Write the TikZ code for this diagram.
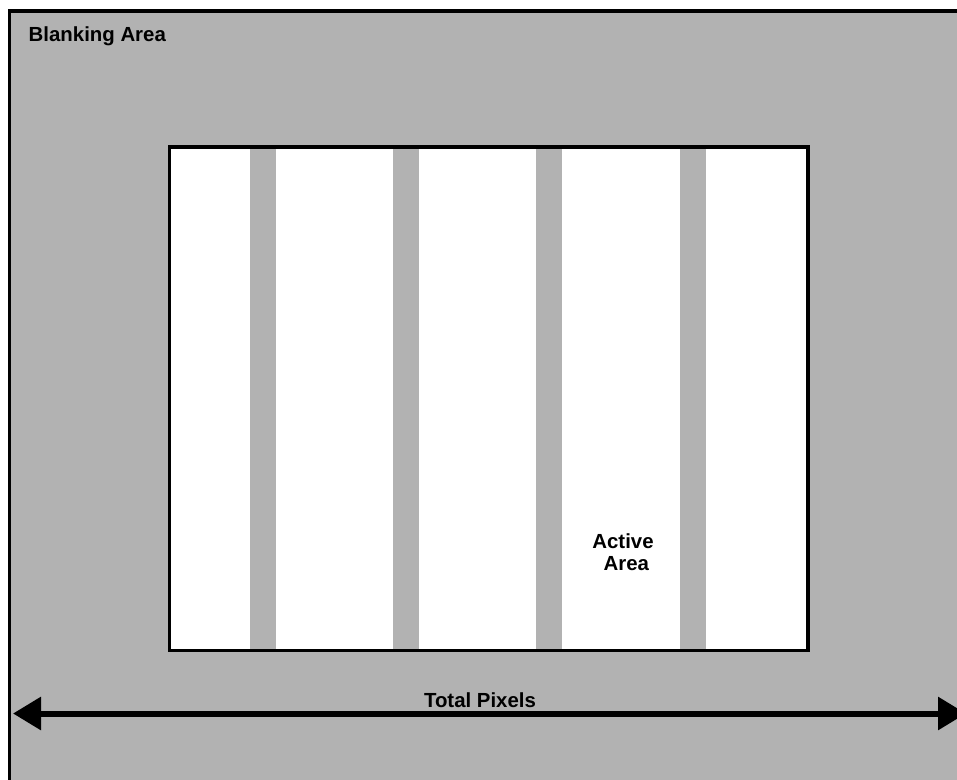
\documentclass[tikz,border=0pt]{standalone}
\usepackage{fontspec}
\setmainfont{Liberation Sans}
\usetikzlibrary{arrows.meta}
\tikzset{
  blankarea/.style={fill=black!30,draw=black,line width=2.8pt},
  activearea/.style={fill=white,draw=black,line width=2.8pt},
  strip/.style={fill=black!30},
  span/.style={{Triangle[length=21pt,width=24pt]}-{Triangle[length=21pt,width=24pt]},line width=4.5pt},
  every node/.style={font=\bfseries\fontsize{15.3}{16.5}\selectfont}
}

\begin{document}
\begin{tikzpicture}[x=0.75pt,y=-0.75pt]
\clip (0,0) rectangle (957,779);
% blanking area runs off the page at right and bottom
\draw[blankarea] (9.5,11) rectangle (990,800);
\node[anchor=base west] (blank) at (24,41) {Blanking Area};
% active area with its gray strips
\fill[activearea] (169.5,147) rectangle (808,650.5);
\foreach \x in {250,393,536,680}
  \fill[strip] (\x,147) rectangle ++(26,503.5);
\draw[activearea,fill=none] (169.5,147) rectangle (808,650.5);
\node[align=center] (act) at (623,552) {Active\\\hspace*{5pt}Area};
% total pixels
\coordinate (l) at (13,713.5);
\coordinate (r) at (966,713.5);
\draw[span] (l) -- (r);
\node[anchor=base] (tot) at (480,707) {Total Pixels};
\end{tikzpicture}
\end{document}
